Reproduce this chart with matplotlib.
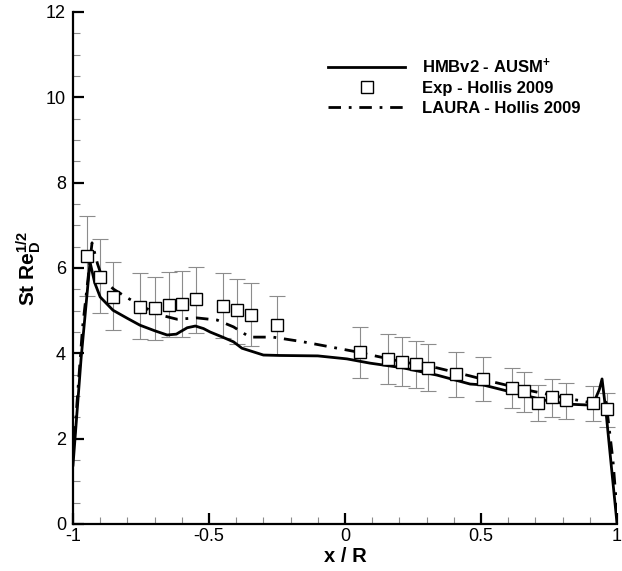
import numpy as np
import matplotlib
matplotlib.use("Agg")
import matplotlib.pyplot as plt
from matplotlib.ticker import MultipleLocator, FormatStrFormatter

plt.rcParams["font.family"] = ["Liberation Sans", "DejaVu Sans"]
plt.rcParams["axes.unicode_minus"] = False
plt.rcParams["mathtext.fontset"] = "custom"
plt.rcParams["mathtext.rm"] = "Liberation Sans:bold"
plt.rcParams["mathtext.it"] = "Liberation Sans:bold"
plt.rcParams["mathtext.bf"] = "Liberation Sans:bold"

# HMBv2 - AUSM+ (solid)
hmb_x = [-1.0, -0.97, -0.9375, -0.92, -0.90, -0.853, -0.80, -0.754, -0.70, -0.654, -0.62,
         -0.607, -0.58, -0.55, -0.52, -0.496, -0.45, -0.41, -0.379, -0.30, -0.24, -0.10,
         0.007, 0.092, 0.213, 0.338, 0.46, 0.507, 0.607, 0.728, 0.816, 0.89, 0.919,
         0.935, 0.945, 0.96, 0.98, 1.0]
hmb_y = [1.38, 3.9, 6.14, 5.65, 5.32, 5.01, 4.82, 4.66, 4.53, 4.43, 4.45,
         4.50, 4.60, 4.64, 4.58, 4.50, 4.38, 4.27, 4.12, 3.96, 3.95, 3.94,
         3.87, 3.77, 3.66, 3.49, 3.28, 3.26, 3.10, 2.91, 2.81, 2.79, 2.91,
         3.15, 3.40, 2.6, 1.3, 0.02]

# LAURA - Hollis 2009 (dash-dot)
laura_x = [-0.995, -0.965, -0.93, -0.91, -0.89, -0.85, -0.80, -0.743, -0.68, -0.618,
           -0.544, -0.47, -0.41, -0.35, -0.265, -0.154, 0.03, 0.213, 0.338, 0.46,
           0.544, 0.669, 0.79, 0.89, 0.937, 0.96, 0.985, 1.0]
laura_y = [2.0, 4.6, 6.59, 6.1, 5.72, 5.5, 5.3, 5.09, 4.9, 4.8,
           4.83, 4.78, 4.62, 4.38, 4.38, 4.27, 4.05, 3.80, 3.66, 3.47,
           3.33, 3.14, 2.98, 2.86, 2.95, 2.85, 1.5, 0.3]

# Exp - Hollis 2009 (squares with error bars)
exp_x = [-0.949, -0.90, -0.853, -0.754, -0.699, -0.647, -0.60, -0.548, -0.448, -0.397,
         -0.346, -0.25, 0.055, 0.158, 0.21, 0.261, 0.305, 0.408, 0.507, 0.614,
         0.658, 0.71, 0.761, 0.813, 0.912, 0.963]
exp_y = [6.28, 5.79, 5.32, 5.09, 5.06, 5.13, 5.15, 5.27, 5.11, 5.01,
         4.90, 4.66, 4.03, 3.87, 3.80, 3.75, 3.66, 3.52, 3.40, 3.19,
         3.12, 2.83, 2.98, 2.91, 2.84, 2.70]
exp_lo = [5.34, 4.94, 4.55, 4.34, 4.31, 4.38, 4.38, 4.47, 4.36, 4.22,
          4.17, 3.96, 3.42, 3.28, 3.23, 3.19, 3.12, 2.98, 2.88, 2.72,
          2.63, 2.41, 2.51, 2.46, 2.41, 2.27]
exp_hi = [7.22, 6.68, 6.14, 5.88, 5.79, 5.90, 5.93, 6.02, 5.88, 5.74,
          5.65, 5.34, 4.62, 4.45, 4.38, 4.29, 4.22, 4.03, 3.91, 3.66,
          3.56, 3.26, 3.40, 3.30, 3.24, 3.07]

fig = plt.figure(figsize=(6.22, 5.71), dpi=100)
ax = fig.add_axes([73 / 622, 47 / 571, 544 / 622, 512 / 571])

yerr = [np.array(exp_y) - np.array(exp_lo), np.array(exp_hi) - np.array(exp_y)]
ax.errorbar(exp_x, exp_y, yerr=yerr, fmt="none", ecolor="#8c8c8c", elinewidth=0.8,
            capsize=6, capthick=0.8, zorder=2)

ax.plot(hmb_x, hmb_y, color="black", lw=2.0, label=r"HMBv2 - AUSM$^{+}$", zorder=3)
ax.plot(exp_x, exp_y, linestyle="none", marker="s", markersize=8.5, markerfacecolor="white",
        markeredgecolor="black", markeredgewidth=1.0, label="Exp - Hollis 2009", zorder=4)
ax.plot(laura_x, laura_y, color="black", lw=2.0, dashes=(4.5, 2.8, 1, 2.8),
        label="LAURA - Hollis 2009", zorder=3)

ax.set_xlim(-1, 1)
ax.set_ylim(0, 12)
ax.spines["top"].set_visible(False)
ax.spines["right"].set_visible(False)
ax.spines["left"].set_linewidth(1.6)
ax.spines["bottom"].set_linewidth(1.6)

ax.xaxis.set_major_locator(MultipleLocator(0.5))
ax.xaxis.set_minor_locator(MultipleLocator(0.1))
ax.yaxis.set_major_locator(MultipleLocator(2))
ax.yaxis.set_minor_locator(MultipleLocator(0.5))
ax.xaxis.set_major_formatter(FormatStrFormatter("%g"))
ax.yaxis.set_major_formatter(FormatStrFormatter("%g"))
ax.tick_params(which="major", direction="in", length=8, width=1.6, labelsize=13, pad=5)
ax.tick_params(which="minor", direction="in", length=5, width=0.8, color="#8c8c8c")
ax.tick_params(axis="x", which="major", pad=3)

ax.set_xlabel("x / R", fontsize=14.5, fontweight="bold", labelpad=1)
ax.set_ylabel(r"St Re$_D^{1/2}$", fontsize=15, fontweight="bold", labelpad=2)

leg = ax.legend(loc="upper left", bbox_to_anchor=(0.457, 0.926), frameon=False,
                prop={"size": 12, "weight": "bold"}, handlelength=4.6,
                handletextpad=1.0, labelspacing=0.3, borderaxespad=0)

fig.savefig("out.png", dpi=100)
